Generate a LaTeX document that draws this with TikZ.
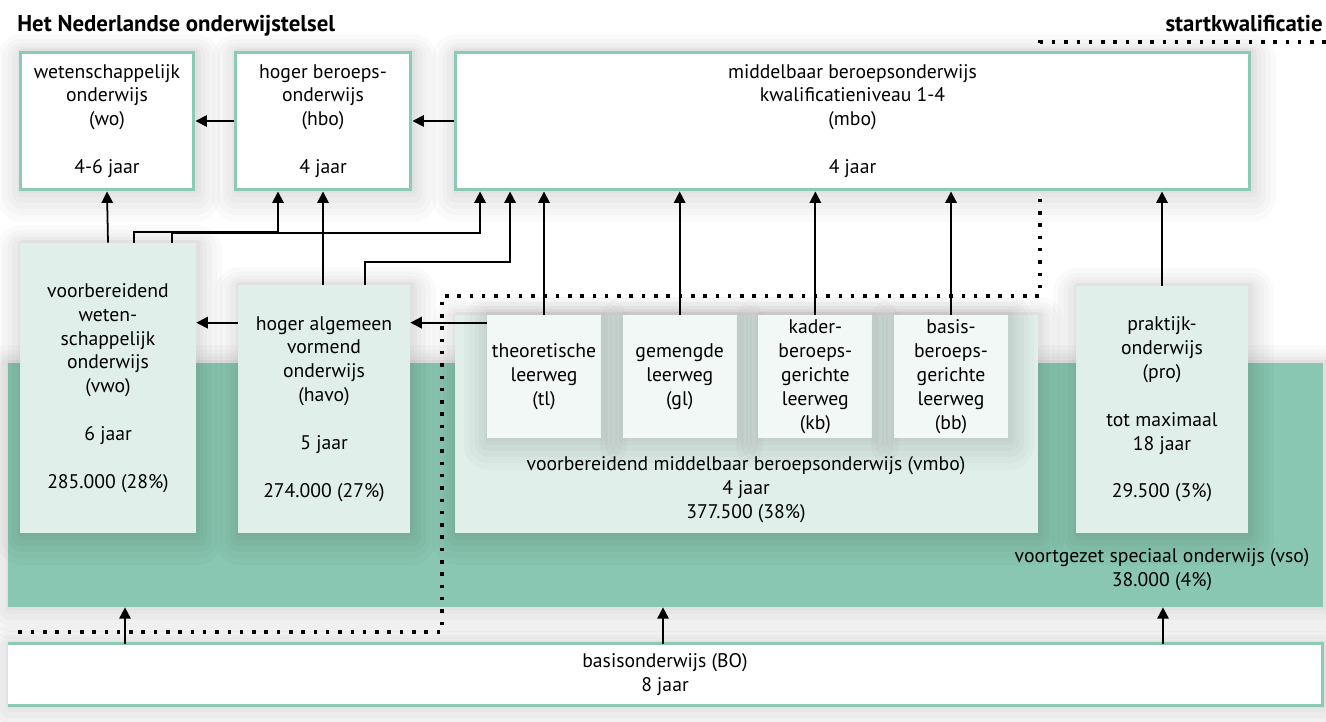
\documentclass[tikz,border=0pt]{standalone}
\usepackage{fontspec}
\setmainfont{PT Sans}
\usetikzlibrary{positioning,arrows.meta}
\definecolor{rand}{HTML}{8CCAB4}
\definecolor{vsogroen}{HTML}{89C7B2}
\definecolor{vak}{HTML}{E1EFEB}
\definecolor{leer}{HTML}{F2F8F6}

\begin{document}
\begin{tikzpicture}
            [x=0.02cm,y=-0.02cm,font=\fontsize{11.2}{13.6}\selectfont,
             shl/.style 2 args={preaction={draw=black,opacity=.018,line width=#1,line join=round,transform canvas={xshift=1pt,yshift=#2}}},
             sh/.style={shl={28pt}{-4pt},shl={22pt}{-3.5pt},shl={16pt}{-3pt},shl={11pt}{-2pt},shl={6pt}{-1pt},shl={3pt}{0pt}},
             top/.style={draw=rand,line width=1.7pt,fill=white,align=center,inner sep=0pt,minimum height=2.76cm,sh},
             vo/.style={fill=vak,align=center,inner sep=0pt,sh},
             lw/.style={fill=leer,align=center,inner sep=0pt,minimum width=2.28cm,minimum height=2.46cm,sh},
             arr/.style={-{Triangle[width=6.5pt,length=6.5pt]},line width=1pt},
             grens/.style={line width=1.8pt,dash pattern=on 2pt off 5pt},
             kop/.style={inner sep=0pt,font=\fontsize{13}{15}\selectfont\bfseries}]
            \useasboundingbox (0,0) rectangle (1326,722);
            \node[fill=vsogroen,inner sep=0pt,minimum width=26.3cm,minimum height=4.88cm,sh](band) at (665.5,485){};
            \node[fill=white,inner sep=0pt,minimum width=26.28cm,minimum height=1.22cm,align=center,sh](bo) at (665,674.5)
                {basisonderwijs (BO)\\8 jaar};
            \draw[rand,line width=1.7pt](bo.north west -| band.west) -- (bo.north east -| 1322,0)
                -- (bo.south east -| 1322,0) -- (bo.south west -| band.west);
            \draw[grens](1326,42) -- (1040,42) -- (1040,296) -- (442,296) -- (442,632) -- (18,632);

            \node[top,minimum width=3.48cm](wo) at (107,121){wetenschappelijk\\onderwijs\\(wo)\\[13.6pt]4-6 jaar};
            \node[top,minimum width=3.52cm](hbo) at (323,121){hoger beroeps-\\onderwijs\\(hbo)\\[13.6pt]4 jaar};
            \node[top,minimum width=15.9cm](mbo) at (852.5,121){middelbaar beroepsonderwijs\\kwalificatieniveau 1-4\\(mbo)\\[13.6pt]4 jaar};

            \node[vo,minimum width=3.52cm,minimum height=5.8cm](vwo) at (108,388)
                {voorbereidend\\weten-\\schappelijk\\onderwijs\\(vwo)\\[13.6pt]6 jaar\\[13.6pt]285.000 (28\%)};
            \node[vo,minimum width=3.44cm,minimum height=4.96cm](havo) at (324,409)
                {hoger algemeen\\vormend\\onderwijs\\(havo)\\[13.6pt]5 jaar\\[13.6pt]274.000 (27\%)};
            \node[vo,minimum width=11.66cm,minimum height=4.36cm](vmbo) at (746.5,424){};
            \node[align=center](vmbotekst) at (746,490)
                {voorbereidend middelbaar beroepsonderwijs (vmbo)\\4 jaar\\377.500 (38\%)};
            \node[lw](tl) at (544,376.5){theoretische\\leerweg\\(tl)};
            \node[lw](gl)[right =0.42cm of tl]{gemengde\\leerweg\\(gl)};
            \node[lw](kb)[right =0.42cm of gl]{kader-\\beroeps-\\gerichte\\leerweg\\(kb)};
            \node[lw](bb)[right =0.42cm of kb]{basis-\\beroeps-\\gerichte\\leerweg\\(bb)};
            \node[vo,minimum width=3.44cm,minimum height=4.94cm](pro) at (1162,409.5)
                {praktijk-\\onderwijs\\(pro)\\[13.6pt]tot maximaal\\18 jaar\\[13.6pt]29.500 (3\%)};
            \node[align=center](vso) at (1162,570){voortgezet speciaal onderwijs (vso)\\38.000 (4\%)};

            \node[kop,anchor=base west](titel) at (17,32){Het Nederlandse onderwijstelsel};
            \node[kop,anchor=base east](start) at (1323,32){startkwalificatie};

            \path[arr](hbo.west) edge (wo.east)
                     (mbo.west) edge (hbo.east)
                     (vwo.north) edge (wo.south)
                     (havo.north -| hbo.south) edge (hbo.south)
                     (pro.north) edge (mbo.south -| pro.north);
            \foreach \n in {tl,gl,kb,bb}
                \draw[arr](\n.north) -- (mbo.south -| \n.north);
            \draw[arr]([xshift=0.52cm]vwo.north) -- ++(0,-11) -| ([xshift=-0.9cm]hbo.south);
            \draw[arr]([xshift=1.28cm]vwo.north) -- ++(0,-10) -| ([xshift=-7.45cm]mbo.south);
            \draw[arr]([xshift=0.82cm]havo.north) -- ++(0,-23) -| ([xshift=-6.85cm]mbo.south);
            \draw[arr]([yshift=-0.76cm]havo.north west) coordinate (h1) -- (vwo.east |- h1);
            \draw[arr]([yshift=-0.16cm]tl.north west) coordinate (t1) -- (havo.east |- t1);
            \foreach \x in {125,663,1163}
                \draw[arr](bo.north -| \x,0) -- (band.south -| \x,0);
\end{tikzpicture}
\end{document}
